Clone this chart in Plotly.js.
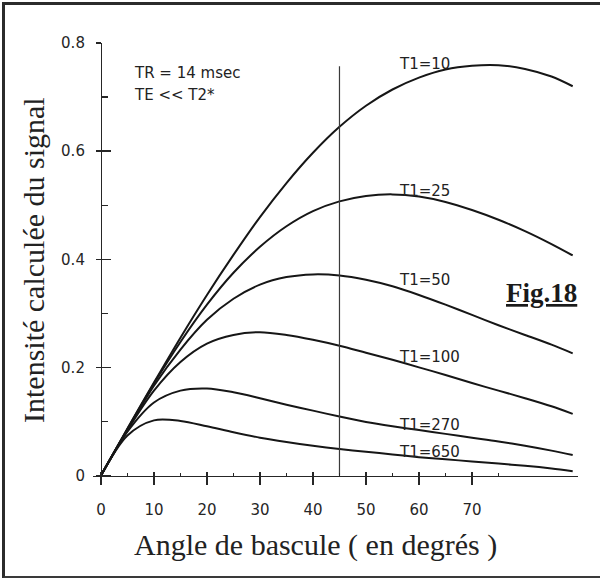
<!DOCTYPE html>
<html>
<head>
<meta charset="utf-8">
<script src="https://cdn.plot.ly/plotly-3.0.1.min.js"></script>
<style>
  html, body { margin: 0; padding: 0; background: #ffffff; }
  #wrap { position: relative; width: 600px; height: 578px; overflow: hidden; }
  #chart { width: 600px; height: 578px; }
  #frame { position: absolute; left: 2px; top: 2px; width: 640px; height: 571px;
           border-left: 3px solid #2b2b2b; border-top: 3px solid #2b2b2b; border-bottom: 3px solid #3a3a3a;
           pointer-events: none; }
</style>
</head>
<body>
<div id="wrap">
  <div id="chart"></div>
  <div id="frame"></div>
</div>
<script>
// Flip angle (degrees)
const angles = [0, 5, 10, 15, 20, 25, 30, 35, 40, 45, 50, 55, 60, 65, 70, 75, 80, 85, 89];

// Calculated signal intensity for each T1
const t1_10  = [0, 0.087, 0.172, 0.255, 0.334, 0.408, 0.478, 0.541, 0.597, 0.645, 0.684, 0.714, 0.736, 0.751, 0.758, 0.759, 0.752, 0.738, 0.720];
const t1_25  = [0, 0.086, 0.170, 0.247, 0.316, 0.375, 0.423, 0.461, 0.489, 0.507, 0.517, 0.520, 0.516, 0.506, 0.491, 0.473, 0.452, 0.428, 0.407];
const t1_50  = [0, 0.085, 0.166, 0.233, 0.288, 0.327, 0.353, 0.367, 0.372, 0.370, 0.362, 0.350, 0.334, 0.316, 0.297, 0.278, 0.260, 0.242, 0.226];
const t1_100 = [0, 0.084, 0.157, 0.210, 0.244, 0.260, 0.265, 0.260, 0.251, 0.240, 0.227, 0.214, 0.200, 0.186, 0.171, 0.157, 0.143, 0.128, 0.114];
const t1_270 = [0, 0.081, 0.135, 0.157, 0.161, 0.154, 0.143, 0.131, 0.120, 0.109, 0.099, 0.091, 0.084, 0.077, 0.070, 0.063, 0.055, 0.046, 0.038];
const t1_650 = [0, 0.074, 0.102, 0.101, 0.091, 0.080, 0.070, 0.062, 0.055, 0.049, 0.044, 0.039, 0.034, 0.030, 0.026, 0.022, 0.018, 0.013, 0.008];

const seriesNames = ["T1=10", "T1=25", "T1=50", "T1=100", "T1=270", "T1=650"];
const seriesValues = [t1_10, t1_25, t1_50, t1_100, t1_270, t1_650];

// Vertical reference line at 45 degrees
const refX = [45, 45];
const refY = [0, 0.757];

// Tick labels
const xTickVals = [0, 10, 20, 30, 40, 50, 60, 70];
const xTickText = ["0", "10", "20", "30", "40", "50", "60", "70"];
const xMinorVals = [5, 15, 25, 35, 45, 55, 65, 75];
const yTickVals = [0, 0.2, 0.4, 0.6, 0.8];
const yTickText = ["0", "0.2", "0.4", "0.6", "0.8"];
const yMinorVals = [0.1, 0.3, 0.5, 0.7];

const infoLines = ["TR = 14 msec", "TE &lt;&lt; T2*"];
const xTitle = "Angle de bascule ( en degrés )";
const yTitle = "Intensité calculée du signal";
const figLabel = "Fig.18";

// label placement (layout only)
const labelX = 55.8;
const labelY = [0.761, 0.527, 0.362, 0.220, 0.094, 0.044];

const XR = [-1.5, 90];
const YR = [-0.012, 0.8];
const xPos = (0 - YR[0]) / (YR[1] - YR[0]);
const yPos = (0 - XR[0]) / (XR[1] - XR[0]);

const lineCol = "#161616";
const axisCol = "#262626";
const tickFont = {family: "DejaVu Sans", size: 15, color: "#262626"};

const traces = seriesValues.map((vals, i) => ({
  type: "scatter", mode: "lines", name: seriesNames[i],
  x: angles, y: vals,
  line: {color: lineCol, width: 2, shape: "spline", smoothing: 0.9},
  hoverinfo: "x+y+name", showlegend: false,
  xaxis: "x", yaxis: "y"
}));

traces.push({
  type: "scatter", mode: "lines", name: "45°",
  x: refX, y: refY,
  line: {color: "#3a3a3a", width: 1.2},
  showlegend: false, xaxis: "x2", yaxis: "y2"
});

const annotations = [];
seriesNames.forEach((n, i) => {
  annotations.push({
    text: n, x: labelX, y: labelY[i], xref: "x", yref: "y",
    xanchor: "left", yanchor: "middle", showarrow: false,
    font: {family: "DejaVu Sans", size: 15, color: "#222222"}
  });
});
annotations.push({
  text: infoLines[0], x: 5.9, y: 0.744, xref: "x", yref: "y",
  xanchor: "left", yanchor: "middle", showarrow: false,
  font: {family: "DejaVu Sans", size: 15, color: "#222222"}
});
annotations.push({
  text: infoLines[1], x: 5.9, y: 0.704, xref: "x", yref: "y",
  xanchor: "left", yanchor: "middle", showarrow: false,
  font: {family: "DejaVu Sans", size: 15, color: "#222222"}
});
annotations.push({
  text: yTitle, x: (33 - 93) / 485, y: (482 - 260) / 439, xref: "paper", yref: "paper",
  xanchor: "center", yanchor: "middle", textangle: -90, showarrow: false,
  font: {family: "Liberation Serif", size: 30, color: "#222222"}
});
annotations.push({
  text: xTitle, x: (315 - 93) / 485, y: (482 - 545) / 439, xref: "paper", yref: "paper",
  xanchor: "center", yanchor: "middle", showarrow: false,
  font: {family: "Liberation Serif", size: 30, color: "#222222"}
});
annotations.push({
  text: "<b><u>" + figLabel + "</u></b>", x: (541 - 93) / 485, y: (482 - 293) / 439,
  xref: "paper", yref: "paper", xanchor: "center", yanchor: "middle", showarrow: false,
  font: {family: "Liberation Serif", size: 27, color: "#1a1a1a"}
});

const layout = {
  width: 600, height: 578,
  margin: {l: 93, r: 22, t: 43, b: 96, pad: 0},
  paper_bgcolor: "#ffffff", plot_bgcolor: "#ffffff",
  showlegend: false,
  xaxis: {
    range: XR, anchor: "free", position: xPos,
    showline: true, linecolor: axisCol, linewidth: 1.5,
    showgrid: false, zeroline: false,
    tickmode: "array", tickvals: xTickVals, ticktext: xTickText,
    ticks: "outside", ticklen: 8, tickwidth: 1.5, tickcolor: axisCol,
    ticklabelstandoff: 12,
    tickfont: tickFont, fixedrange: true
  },
  xaxis2: {
    range: XR, overlaying: "x", anchor: "free", position: xPos,
    showline: false, showgrid: false, zeroline: false,
    tickmode: "array", tickvals: xTickVals,
    ticks: "inside", ticklen: 4, tickwidth: 1.5, tickcolor: axisCol,
    showticklabels: false,
    minor: {tickmode: "array", tickvals: xMinorVals, ticks: "inside", ticklen: 3, tickwidth: 1.2, tickcolor: axisCol, showgrid: false},
    fixedrange: true
  },
  yaxis: {
    range: YR, anchor: "free", position: yPos,
    showline: true, linecolor: axisCol, linewidth: 1.5,
    showgrid: false, zeroline: false,
    tickmode: "array", tickvals: yTickVals, ticktext: yTickText,
    ticks: "outside", ticklen: 5, tickwidth: 1.5, tickcolor: axisCol,
    ticklabelstandoff: 8,
    tickfont: tickFont, fixedrange: true
  },
  yaxis2: {
    range: YR, overlaying: "y", anchor: "free", position: yPos,
    showline: false, showgrid: false, zeroline: false,
    tickmode: "array", tickvals: yTickVals,
    ticks: "inside", ticklen: 9, tickwidth: 1.5, tickcolor: axisCol,
    showticklabels: false,
    minor: {tickmode: "array", tickvals: yMinorVals, ticks: "inside", ticklen: 6, tickwidth: 1.2, tickcolor: axisCol, showgrid: false},
    fixedrange: true
  },
  annotations: annotations
};

Plotly.newPlot("chart", traces, layout, {displayModeBar: false, staticPlot: true});
</script>
</body>
</html>
